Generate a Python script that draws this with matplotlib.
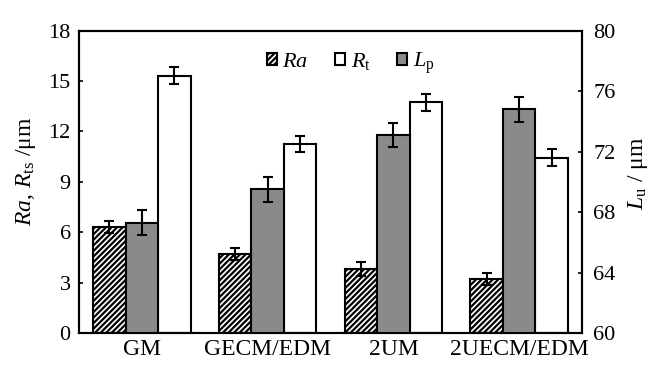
import matplotlib
matplotlib.use("Agg")
import matplotlib.pyplot as plt
import numpy as np
from matplotlib.patches import Patch

plt.rcParams['font.family'] = ['Liberation Serif', 'DejaVu Serif']
plt.rcParams['mathtext.fontset'] = 'custom'
plt.rcParams['mathtext.rm'] = 'Liberation Serif'
plt.rcParams['mathtext.it'] = 'Liberation Serif:italic'
plt.rcParams['hatch.linewidth'] = 1.6

categories = ['GM', 'GECM/EDM', '2UM', '2UECM/EDM']
ra = [6.3, 4.7, 3.8, 3.2]
ra_err = [0.37, 0.38, 0.4, 0.37]
rt = [15.33, 11.25, 13.73, 10.43]
rt_err = [0.48, 0.5, 0.5, 0.5]
lp = [67.3, 69.5, 73.1, 74.8]
lp_err = [0.84, 0.85, 0.8, 0.82]

fig = plt.figure(figsize=(6.5, 3.74), dpi=100)
ax = fig.add_axes([79/650, 1-333/374, (582-79)/650, (333-30.7)/374])
ax2 = ax.twinx()

x = np.arange(len(categories))
w = 0.258
ekw = dict(elinewidth=1.5, capthick=1.5)

ax.bar(x - w, ra, w, color='white', edgecolor='black', hatch='//////', linewidth=1.5,
       yerr=ra_err, capsize=3.5, error_kw=ekw, zorder=2)
ax.bar(x + w, rt, w, color='white', edgecolor='black', linewidth=1.5,
       yerr=rt_err, capsize=3.5, error_kw=ekw, zorder=2)
ax2.bar(x, lp, w, color='#8a8a8a', edgecolor='black', linewidth=1.5,
        yerr=lp_err, capsize=3.5, error_kw=ekw, zorder=2)

ax.set_xlim(-0.5, 3.5)
ax.set_ylim(0, 18)
ax.set_yticks(np.arange(0, 19, 3))
ax2.set_ylim(60, 80)
ax2.set_yticks(np.arange(60, 81, 4))
ax.set_xticks(x)
ax.set_xticklabels(categories, fontsize=17)
ax.tick_params(axis='x', length=0, pad=4)
ax.tick_params(axis='y', direction='in', length=3, width=1.2, labelsize=16, pad=6)
ax2.tick_params(axis='y', direction='in', length=3, width=1.2, labelsize=16, pad=8)
for a in (ax, ax2):
    for s in a.spines.values():
        s.set_linewidth(1.5)

ax.set_ylabel(r'$\mathit{Ra}$, $\mathit{R}_{\mathrm{ts}}$ /μm', fontsize=17)
ax.yaxis.set_label_coords(-0.082, 0.536)
ax2.set_ylabel(r'$\mathit{L}_{\mathrm{u}}$ / μm', fontsize=17)
ax2.yaxis.set_label_coords(1.087, 0.527)

handles = [Patch(facecolor='white', edgecolor='black', hatch='//////', linewidth=1.5),
           Patch(facecolor='white', edgecolor='black', linewidth=1.5),
           Patch(facecolor='#8a8a8a', edgecolor='black', linewidth=1.5)]
labels = [r'$\mathit{Ra}$', r'$\mathit{R}_{\mathrm{t}}$', r'$\mathit{L}_{\mathrm{p}}$']
ax2.legend(handles, labels, loc='upper center', bbox_to_anchor=(0.54, 1.0), ncol=3,
           frameon=False, fontsize=16, handlelength=0.45, handleheight=0.45,
           handletextpad=0.25, columnspacing=1.2)

fig.savefig('out.png', dpi=100)
